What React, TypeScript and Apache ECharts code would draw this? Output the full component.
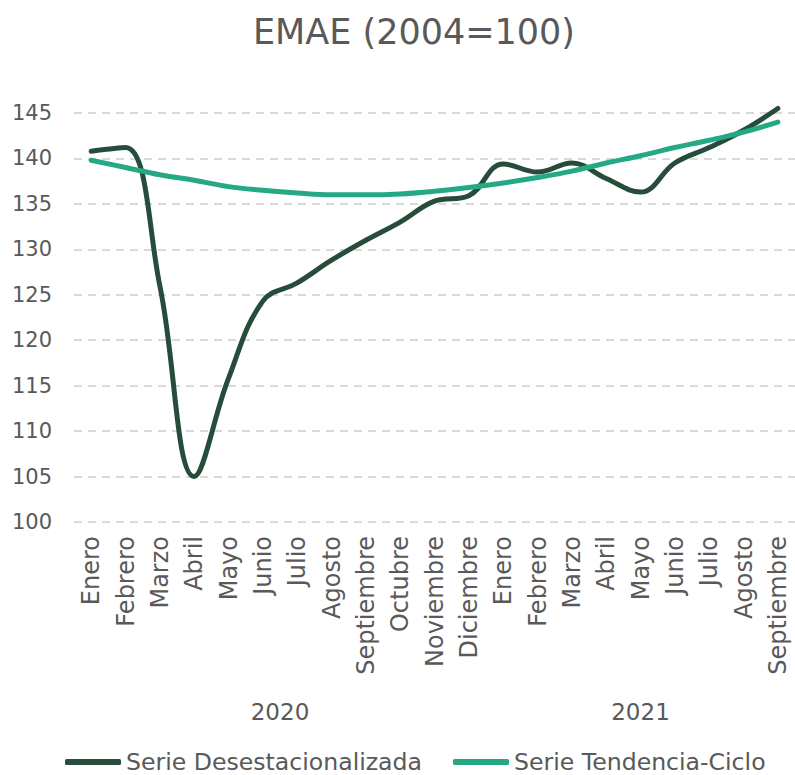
import React, { useEffect, useRef } from "react";
import * as echarts from "echarts";

const months = [
  "Enero", "Febrero", "Marzo", "Abril", "Mayo", "Junio", "Julio", "Agosto", "Septiembre", "Octubre", "Noviembre", "Diciembre",
  "Enero", "Febrero", "Marzo", "Abril", "Mayo", "Junio", "Julio", "Agosto", "Septiembre",
];
const years = ["2020", "2021"];
const yearStart = [0, 12];
const yearEnd = [11, 20];

const desestacionalizada = [
  140.8, 141.2, 126.0, 105.0, 115.8, 124.3, 126.3, 128.8, 131.0, 133.0, 135.3, 135.9,
  139.4, 138.5, 139.5, 137.8, 136.3, 139.5, 141.2, 143.1, 145.5,
];
const tendencia = [
  139.8, 139.0, 138.2, 137.6, 136.9, 136.5, 136.2, 136.0, 136.0, 136.1, 136.4, 136.8,
  137.3, 137.9, 138.6, 139.5, 140.3, 141.2, 142.0, 142.9, 144.0,
];
const seriesNames = ["Serie Desestacionalizada", "Serie Tendencia-Ciclo"];

const FONT = "DejaVu Sans";
const TEXT = "#595959";

export default function App() {
  const ref = useRef<HTMLDivElement>(null);
  useEffect(() => {
    document.body.style.margin = "0";
    const chart = echarts.init(ref.current!, null, { renderer: "svg" });
    chart.setOption({
      animation: false,
      title: {
        text: "EMAE (2004=100)",
        left: 253,
        top: 14,
        padding: 0,
        textStyle: { fontFamily: FONT, fontSize: 35, fontWeight: "normal", color: TEXT },
      },
      legend: {
        left: 65,
        top: 750,
        padding: 0,
        itemWidth: 56,
        itemHeight: 6,
        itemGap: 31,
        icon: "roundRect",
        textStyle: { fontFamily: FONT, fontSize: 23.6, color: TEXT },
        data: seriesNames,
      },
      grid: { left: 74, right: -11, top: 113, height: 409 },
      xAxis: {
        type: "category",
        data: months,
        boundaryGap: true,
        axisLine: { show: false },
        axisTick: { show: false },
        axisLabel: {
          rotate: 90,
          interval: 0,
          margin: 14,
          fontFamily: FONT,
          fontSize: 24,
          color: TEXT,
        },
      },
      yAxis: {
        type: "value",
        min: 100,
        max: 145,
        interval: 5,
        axisLine: { show: false },
        axisTick: { show: false },
        axisLabel: { margin: 22, fontFamily: FONT, fontSize: 21, color: TEXT },
        splitLine: { lineStyle: { type: [8, 6], color: "#d9d9d9", width: 2 } },
      },
      series: [
        {
          name: seriesNames[0],
          type: "line",
          data: desestacionalizada,
          smooth: 0.4,
          symbol: "none",
          clip: false,
          lineStyle: { width: 5, color: "#264d3a", cap: "round" },
          itemStyle: { color: "#264d3a" },
        },
        {
          name: seriesNames[1],
          type: "line",
          data: tendencia,
          smooth: 0.4,
          symbol: "none",
          clip: false,
          lineStyle: { width: 5, color: "#25a884", cap: "round" },
          itemStyle: { color: "#25a884" },
        },
      ],
    });
    const graphics = years.map((y, i) => {
      const x0 = chart.convertToPixel({ xAxisIndex: 0 }, yearStart[i]) as number;
      const x1 = chart.convertToPixel({ xAxisIndex: 0 }, yearEnd[i]) as number;
      return {
        type: "text",
        x: (x0 + x1) / 2,
        y: 712,
        style: {
          text: y,
          fontFamily: FONT,
          fontSize: 23,
          fill: TEXT,
          align: "center",
          verticalAlign: "middle",
        },
      };
    });
    chart.setOption({ graphic: graphics });
    return () => chart.dispose();
  }, []);
  return <div ref={ref} style={{ width: 795, height: 775 }} />;
}
